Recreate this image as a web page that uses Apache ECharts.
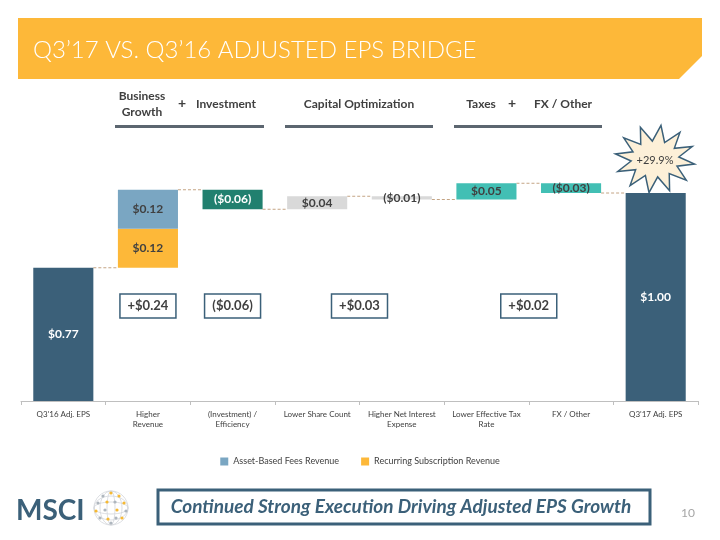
<!DOCTYPE html>
<html><head><meta charset="utf-8">
<script src="https://cdn.jsdelivr.net/npm/echarts@6/dist/echarts.min.js"></script>
<style>html,body{margin:0;padding:0;background:#fff}#c{width:720px;height:540px}</style>
</head><body><div id="c"></div>
<script>
// ---- data ----
const categories = ["Q3'16 Adj. EPS", 'Higher\nRevenue', '(Investment) /\nEfficiency', 'Lower Share Count', 'Higher Net Interest\nExpense', 'Lower Effective Tax\nRate', 'FX / Other', "Q3'17 Adj. EPS"];
const startEPS = 0.77;
const endEPS = 1.00;
const recurringSubscriptionRevenue = 0.12;
const assetBasedFeesRevenue = 0.12;
const bridgeDeltas = [-0.06, 0.04, -0.01, 0.05, -0.03];   // categories 2..6
const groupTotals = [0.24, -0.06, 0.03, 0.02];
const groupSpans = [[1, 1], [2, 2], [3, 4], [5, 6]];
const growthPct = 29.9;
const groupHeaders = ['Business Growth + Investment', 'Capital Optimization', 'Taxes + FX / Other'];

// ---- styles ----
const FONT = 'Lato, "Open Sans", sans-serif';
const SLATE = '#3B6079';
const bridgeColors = ['#21806F', '#D9D9D9', '#D9D9D9', '#42BFB4', '#42BFB4'];
const bridgeLabelColors = ['#ffffff', '#404040', '#404040', '#404040', '#404040'];
const Y_MIN = 0.36, Y_MAX = 1.16, BOX_LEVEL = 0.652, BAR_FRAC = 0.71;

const fmt = v => v < 0 ? '($' + Math.abs(v).toFixed(2) + ')' : '$' + v.toFixed(2);
const fmtBox = v => v < 0 ? fmt(v) : '+' + fmt(v);

// ---- build segments ----
const bridgeSegs = [];
bridgeSegs.push({cat: 0, low: 0, high: startEPS, color: SLATE, label: fmt(startEPS), labelColor: '#fff'});
let level = startEPS + recurringSubscriptionRevenue + assetBasedFeesRevenue;
const levels = [startEPS, level];
bridgeDeltas.forEach((d, i) => {
  const nl = level + d;
  bridgeSegs.push({cat: i + 2, low: Math.min(level, nl), high: Math.max(level, nl), color: bridgeColors[i], label: fmt(d), labelColor: bridgeLabelColors[i]});
  level = nl; levels.push(level);
});
bridgeSegs.push({cat: 7, low: 0, high: endEPS, color: SLATE, label: fmt(endEPS), labelColor: '#fff'});

const recSegs = [{cat: 1, low: startEPS, high: startEPS + recurringSubscriptionRevenue, label: fmt(recurringSubscriptionRevenue), labelColor: '#404040'}];
const abSegs = [{cat: 1, low: startEPS + recurringSubscriptionRevenue, high: startEPS + recurringSubscriptionRevenue + assetBasedFeesRevenue, label: fmt(assetBasedFeesRevenue), labelColor: '#404040'}];

function segRenderer(segs) {
  return function (params, api) {
    const s = segs[params.dataIndex];
    const cs = params.coordSys;
    const bw = api.size([1, 0])[0] * BAR_FRAC;
    const p1 = api.coord([api.value(0), api.value(2)]);
    const p0 = api.coord([api.value(0), api.value(1)]);
    const yb = Math.min(p0[1], cs.y + cs.height);
    return {
      type: 'rect',
      shape: {x: p1[0] - bw / 2, y: p1[1], width: bw, height: yb - p1[1]},
      style: {fill: s.color || api.visual('color')},
      textContent: {style: {text: s.label, fill: s.labelColor, font: 'bold 12px ' + FONT}},
      textConfig: {position: 'inside'}
    };
  };
}

// star outline (decorative)
function starPoints(cx, cy, n, rxo, ryo, rxi, ryi) {
  const pts = [];
  for (let i = 0; i < n * 2; i++) {
    const a = Math.PI * i / n - Math.PI / 2 + 0.15;
    const o = i % 2 === 0;
    pts.push([cx + Math.cos(a) * (o ? rxo : rxi), cy + Math.sin(a) * (o ? ryo : ryi)]);
  }
  return pts;
}

const chart = echarts.init(document.getElementById('c'), null, {renderer: 'canvas'});

const hdrStyle = {font: 'bold 12px ' + FONT, fill: '#404040'};
const graphics = [
  {type: 'polygon', shape: {points: [[18, 18], [702, 18], [702, 56], [679, 79], [18, 79]]}, style: {fill: '#FDB839'}},
  {type: 'text', x: 33, y: 50, style: {text: 'Q3’17 VS. Q3’16 ADJUSTED EPS BRIDGE', font: '300 24px ' + FONT, fill: '#fff', textVerticalAlign: 'middle'}},
  {type: 'text', x: 142, y: 96, style: Object.assign({text: 'Business', textAlign: 'center', textVerticalAlign: 'middle'}, hdrStyle)},
  {type: 'text', x: 142, y: 112, style: Object.assign({text: 'Growth', textAlign: 'center', textVerticalAlign: 'middle'}, hdrStyle)},
  {type: 'text', x: 182, y: 103, style: {text: '+', textAlign: 'center', textVerticalAlign: 'middle', font: 'bold 14px ' + FONT, fill: '#404040'}},
  {type: 'text', x: 196, y: 104, style: Object.assign({text: 'Investment', textVerticalAlign: 'middle'}, hdrStyle)},
  {type: 'text', x: 359, y: 104, style: Object.assign({text: groupHeaders[1], textAlign: 'center', textVerticalAlign: 'middle'}, hdrStyle)},
  {type: 'text', x: 481, y: 104, style: Object.assign({text: 'Taxes', textAlign: 'center', textVerticalAlign: 'middle'}, hdrStyle)},
  {type: 'text', x: 512, y: 103, style: {text: '+', textAlign: 'center', textVerticalAlign: 'middle', font: 'bold 14px ' + FONT, fill: '#404040'}},
  {type: 'text', x: 563, y: 104, style: Object.assign({text: 'FX / Other', textAlign: 'center', textVerticalAlign: 'middle'}, hdrStyle)},
  {type: 'rect', shape: {x: 115, y: 125, width: 149, height: 3}, style: {fill: '#5C6670'}},
  {type: 'rect', shape: {x: 285, y: 125, width: 148, height: 3}, style: {fill: '#5C6670'}},
  {type: 'rect', shape: {x: 454, y: 125, width: 148, height: 3}, style: {fill: '#5C6670'}},
  {type: 'polygon', shape: {points: starPoints(655, 159, 12, 40, 34, 24, 18)}, style: {fill: '#FDF0D8', stroke: SLATE, lineWidth: 1.5}, z: 10},
  {type: 'text', x: 655, y: 160, style: {text: '+' + growthPct.toFixed(1) + '%', textAlign: 'center', textVerticalAlign: 'middle', font: '11px ' + FONT, fill: '#404040'}, z: 11},
  {type: 'text', x: 16, y: 511, style: {text: 'MSCI', font: 'bold 28px ' + FONT, fill: SLATE, textVerticalAlign: 'middle'}},
  {type: 'rect', shape: {x: 158, y: 490, width: 492, height: 34}, style: {fill: '#fff', stroke: SLATE, lineWidth: 3}},
  {type: 'text', x: 401, y: 507, style: {text: 'Continued Strong Execution Driving Adjusted EPS Growth', font: 'italic bold 19px ' + FONT, fill: SLATE, textAlign: 'center', textVerticalAlign: 'middle'}},
  {type: 'text', x: 688, y: 513, style: {text: '10', font: '12px ' + FONT, fill: '#A6A6A6', textAlign: 'center', textVerticalAlign: 'middle'}}
];
const gcx = 111, gcy = 508;
[[17, 17], [11, 17], [4, 17], [17, 6], [17, 12]].forEach(r => graphics.push({type: 'ellipse', shape: {cx: gcx, cy: gcy, rx: r[0], ry: r[1]}, style: {fill: 'none', stroke: '#D3D6DA', lineWidth: 0.8}}));
const dots = [[0, -15, 1], [-8, -12, 0], [8, -12, 1], [-13, -5, 0], [-4, -6, 1], [4, -6, 0], [13, -5, 1], [-15, 3, 1], [-6, 2, 0], [6, 2, 1], [15, 3, 0], [-11, 10, 0], [-3, 11, 1], [5, 10, 0], [11, 10, 1], [0, 15, 0]];
dots.forEach(d => graphics.push({type: 'circle', shape: {cx: gcx + d[0], cy: gcy + d[1], r: 1.6}, style: {fill: d[2] ? '#F6B933' : '#AEB6BE'}}));

chart.setOption({
  animation: false,
  textStyle: {fontFamily: FONT},
  grid: {left: 21, right: 22, top: 141, bottom: 139},
  legend: {
    data: ['Asset-Based Fees Revenue', 'Recurring Subscription Revenue'],
    top: 452, left: 'center', icon: 'rect', itemWidth: 8, itemHeight: 8, itemGap: 22,
    textStyle: {fontSize: 9, color: '#404040', fontFamily: FONT}
  },
  xAxis: {
    type: 'category', data: categories,
    axisLine: {lineStyle: {color: '#BFBFBF'}},
    axisTick: {show: true, length: 4, lineStyle: {color: '#BFBFBF'}},
    axisLabel: {fontSize: 8, color: '#404040', lineHeight: 10, margin: 8, interval: 0, fontFamily: FONT}
  },
  yAxis: {type: 'value', min: Y_MIN, max: Y_MAX, show: false, splitLine: {show: false}},
  graphic: graphics,
  series: [
    {
      type: 'custom', name: 'connectors', silent: true, z: 1,
      data: levels.slice(0, 7).map((v, i) => [i, v]),
      renderItem: function (params, api) {
        const bw = api.size([1, 0])[0];
        const p = api.coord([api.value(0), api.value(1)]);
        return {type: 'line', shape: {x1: p[0] + bw * BAR_FRAC / 2, y1: p[1], x2: p[0] + bw * (1 - BAR_FRAC / 2), y2: p[1]},
          style: {stroke: '#C4A484', lineWidth: 1, lineDash: [3, 2]}};
      }
    },
    {type: 'custom', name: 'Recurring Subscription Revenue', itemStyle: {color: '#FDB839'}, z: 2,
      data: recSegs.map(s => [s.cat, s.low, s.high]), renderItem: segRenderer(recSegs)},
    {type: 'custom', name: 'Asset-Based Fees Revenue', itemStyle: {color: '#7AA6C2'}, z: 2,
      data: abSegs.map(s => [s.cat, s.low, s.high]), renderItem: segRenderer(abSegs)},
    {type: 'custom', name: 'bridge', itemStyle: {color: SLATE}, z: 2,
      data: bridgeSegs.map(s => [s.cat, s.low, s.high]), renderItem: segRenderer(bridgeSegs)},
    {
      type: 'custom', name: 'groupTotals', z: 3, silent: true,
      data: groupSpans.map((s, i) => [s[0], s[1], groupTotals[i]]),
      renderItem: function (params, api) {
        const a = api.coord([api.value(0), BOX_LEVEL]);
        const b = api.coord([api.value(1), BOX_LEVEL]);
        const cx = (a[0] + b[0]) / 2, cy = a[1];
        return {type: 'group', children: [
          {type: 'rect', shape: {x: cx - 28, y: cy - 12, width: 56, height: 24}, style: {fill: '#fff', stroke: SLATE, lineWidth: 1.5}},
          {type: 'text', x: cx, y: cy, style: {text: fmtBox(api.value(2)), font: 'bold 13px ' + FONT, fill: '#404040', textAlign: 'center', textVerticalAlign: 'middle'}}
        ]};
      }
    }
  ]
});
</script></body></html>
